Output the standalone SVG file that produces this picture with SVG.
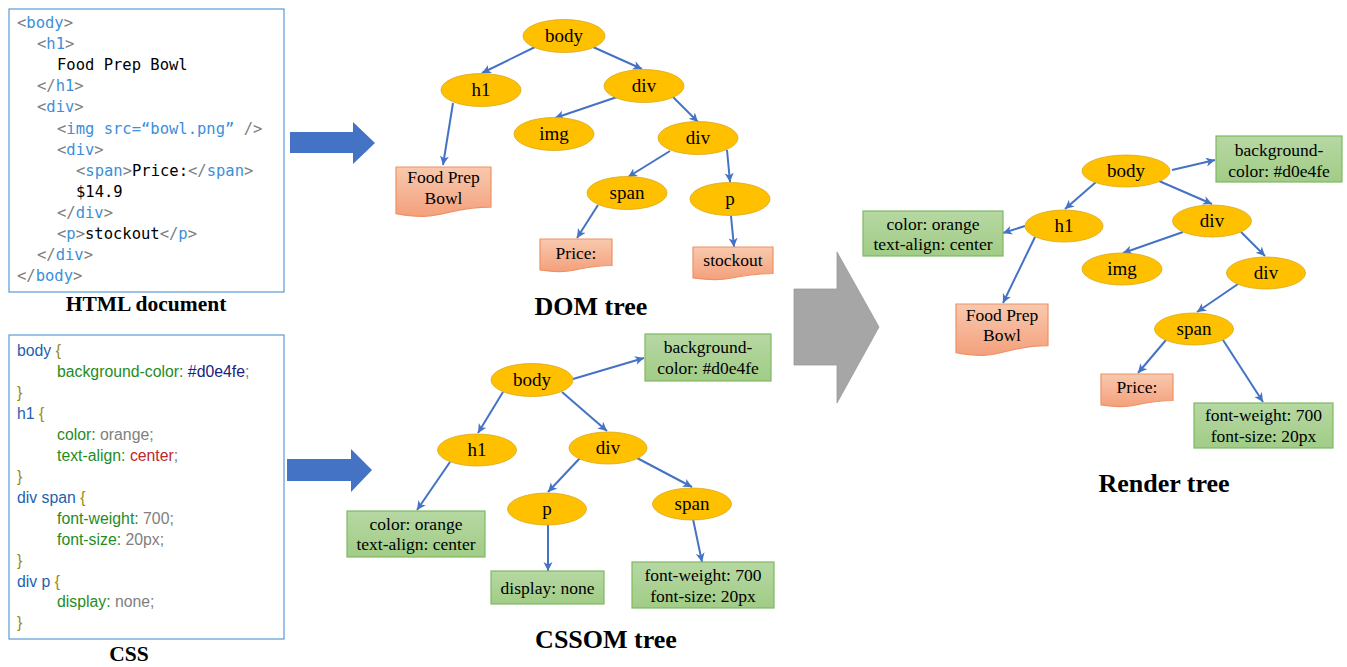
<svg xmlns="http://www.w3.org/2000/svg" width="1347" height="667" viewBox="0 0 1347 667">
<defs>
<linearGradient id="gGreen" x1="0" y1="0" x2="0" y2="1"><stop offset="0" stop-color="#b6d8a3"/><stop offset="1" stop-color="#a1cc86"/></linearGradient>
<linearGradient id="gSalmon" x1="0" y1="0" x2="0" y2="1"><stop offset="0" stop-color="#f8c9ae"/><stop offset="1" stop-color="#f4a07c"/></linearGradient>
<marker id="ah" markerUnits="userSpaceOnUse" markerWidth="12" markerHeight="12" refX="9" refY="4.5" orient="auto"><path d="M0,0 L9,4.5 L0,9 L2.5,4.5 Z" fill="#4472c4"/></marker>
<style>
.codebox{fill:#fff;stroke:#5b9bd5;stroke-width:1.2}
.mono{font-family:"DejaVu Sans Mono","Liberation Mono",monospace;font-size:15.5px;fill:#000}
.g{fill:#808080}.t{fill:#3c8fd8}
.css{font-family:"Liberation Sans",Arial,sans-serif;font-size:15.8px}
.sel{fill:#1f5fb0}.br{fill:#9a8c10}.prop{fill:#1f8c1f}.val{fill:#808080}.hex{fill:#1a237e}.red{fill:#c0282d}
.label{font-family:"Liberation Serif","Times New Roman",serif;font-weight:bold;text-anchor:middle;fill:#000}
.ell{fill:#ffc000;stroke:#dba81a;stroke-width:0.8}
.et{font-family:"Liberation Serif","Times New Roman",serif;font-size:19px;text-anchor:middle;fill:#000}
.bt{font-family:"Liberation Serif","Times New Roman",serif;font-size:17.5px;text-anchor:middle;fill:#000}
.gbox{fill:url(#gGreen);stroke:#7fb862;stroke-width:1.2}
.doc{fill:url(#gSalmon);stroke:#ee9166;stroke-width:1.2}
.edge{stroke:#4472c4;stroke-width:2;fill:none;marker-end:url(#ah)}
</style>
</defs>
<rect width="1347" height="667" fill="#fff"/>

<!-- HTML document -->
<g id="html-doc">
<rect class="codebox" x="9" y="9" width="275" height="283"/>
<text class="mono" x="17" y="28"><tspan class="g">&lt;</tspan><tspan class="t">body</tspan><tspan class="g">&gt;</tspan></text>
<text class="mono" x="37" y="49.1"><tspan class="g">&lt;</tspan><tspan class="t">h1</tspan><tspan class="g">&gt;</tspan></text>
<text class="mono" x="57" y="70.2">Food Prep Bowl</text>
<text class="mono" x="37" y="91.3"><tspan class="g">&lt;/</tspan><tspan class="t">h1</tspan><tspan class="g">&gt;</tspan></text>
<text class="mono" x="37" y="112.4"><tspan class="g">&lt;</tspan><tspan class="t">div</tspan><tspan class="g">&gt;</tspan></text>
<text class="mono" x="57" y="133.5"><tspan class="g">&lt;</tspan><tspan class="t">img src=“bowl.png”</tspan><tspan class="g"> /&gt;</tspan></text>
<text class="mono" x="57" y="154.6"><tspan class="g">&lt;</tspan><tspan class="t">div</tspan><tspan class="g">&gt;</tspan></text>
<text class="mono" x="76" y="175.7"><tspan class="g">&lt;</tspan><tspan class="t">span</tspan><tspan class="g">&gt;</tspan>Price:<tspan class="g">&lt;/</tspan><tspan class="t">span</tspan><tspan class="g">&gt;</tspan></text>
<text class="mono" x="76" y="196.8">$14.9</text>
<text class="mono" x="57" y="217.9"><tspan class="g">&lt;/</tspan><tspan class="t">div</tspan><tspan class="g">&gt;</tspan></text>
<text class="mono" x="57" y="239"><tspan class="g">&lt;</tspan><tspan class="t">p</tspan><tspan class="g">&gt;</tspan>stockout<tspan class="g">&lt;/</tspan><tspan class="t">p</tspan><tspan class="g">&gt;</tspan></text>
<text class="mono" x="37" y="260.1"><tspan class="g">&lt;/</tspan><tspan class="t">div</tspan><tspan class="g">&gt;</tspan></text>
<text class="mono" x="17" y="281.2"><tspan class="g">&lt;/</tspan><tspan class="t">body</tspan><tspan class="g">&gt;</tspan></text>
<text class="label" x="146" y="311" font-size="21.5">HTML document</text>
</g>

<!-- CSS -->
<g id="css-doc">
<rect class="codebox" x="9" y="335" width="275" height="304"/>
<text class="css" x="17" y="356"><tspan class="sel">body </tspan><tspan class="br">{</tspan></text>
<text class="css" x="57" y="377"><tspan class="prop">background-color: </tspan><tspan class="hex">#d0e4fe</tspan><tspan class="val">;</tspan></text>
<text class="css" x="17" y="397.9"><tspan class="br">}</tspan></text>
<text class="css" x="17" y="418.9"><tspan class="sel">h1 </tspan><tspan class="br">{</tspan></text>
<text class="css" x="57" y="439.8"><tspan class="prop">color: </tspan><tspan class="val">orange;</tspan></text>
<text class="css" x="57" y="460.8"><tspan class="prop">text-align: </tspan><tspan class="red">center</tspan><tspan class="val">;</tspan></text>
<text class="css" x="17" y="481.7"><tspan class="br">}</tspan></text>
<text class="css" x="17" y="502.7"><tspan class="sel">div span </tspan><tspan class="br">{</tspan></text>
<text class="css" x="57" y="523.6"><tspan class="prop">font-weight: </tspan><tspan class="val">700;</tspan></text>
<text class="css" x="57" y="544.6"><tspan class="prop">font-size: </tspan><tspan class="val">20px;</tspan></text>
<text class="css" x="17" y="565.5"><tspan class="br">}</tspan></text>
<text class="css" x="17" y="586.5"><tspan class="sel">div p </tspan><tspan class="br">{</tspan></text>
<text class="css" x="57" y="607.4"><tspan class="prop">display: </tspan><tspan class="val">none;</tspan></text>
<text class="css" x="17" y="628.4"><tspan class="br">}</tspan></text>
<text class="label" x="129" y="661" font-size="21.5">CSS</text>
</g>

<!-- Big arrows -->
<g id="big-arrows">
<polygon points="290,132 353,132 353,122 375,143 353,164 353,153 290,153" fill="#4472c4"/>
<polygon points="287,459 351,459 351,449 372,470 351,492 351,481 287,481" fill="#4472c4"/>
<polygon points="794,289 837,289 837,252 879,327 837,403 837,365 794,365" fill="#a6a6a6" stroke="#9a9a9a" stroke-width="0.8"/>
</g>

<!-- Connectors -->
<g id="connectors">
<line class="edge" x1="535" y1="47" x2="482" y2="73"/>
<line class="edge" x1="593" y1="47" x2="642" y2="69"/>
<line class="edge" x1="453" y1="103" x2="443" y2="165"/>
<line class="edge" x1="617" y1="97" x2="555" y2="118"/>
<line class="edge" x1="673" y1="97" x2="698" y2="122"/>
<line class="edge" x1="670" y1="151" x2="628" y2="177"/>
<line class="edge" x1="727" y1="150" x2="730" y2="182"/>
<line class="edge" x1="598" y1="205" x2="577" y2="238"/>
<line class="edge" x1="731" y1="216" x2="734" y2="247"/>
<line class="edge" x1="573" y1="379" x2="644" y2="358"/>
<line class="edge" x1="503" y1="392" x2="478" y2="433"/>
<line class="edge" x1="562" y1="392" x2="607" y2="431"/>
<line class="edge" x1="450" y1="462" x2="417" y2="510"/>
<line class="edge" x1="580" y1="458" x2="548" y2="492"/>
<line class="edge" x1="637" y1="458" x2="692" y2="487"/>
<line class="edge" x1="548" y1="525" x2="548" y2="571"/>
<line class="edge" x1="693" y1="519" x2="702" y2="562"/>
<line class="edge" x1="1172" y1="170" x2="1215" y2="160"/>
<line class="edge" x1="1096" y1="182" x2="1065" y2="209"/>
<line class="edge" x1="1159" y1="181" x2="1212" y2="204"/>
<line class="edge" x1="1025" y1="226" x2="1003" y2="233"/>
<line class="edge" x1="1035" y1="237" x2="1003" y2="303"/>
<line class="edge" x1="1183" y1="232" x2="1123" y2="253"/>
<line class="edge" x1="1241" y1="232" x2="1265" y2="256"/>
<line class="edge" x1="1238" y1="284" x2="1197" y2="312"/>
<line class="edge" x1="1166" y1="340" x2="1138" y2="373"/>
<line class="edge" x1="1223" y1="340" x2="1263" y2="402"/>
</g>

<!-- DOM tree nodes -->
<g id="dom-body"><ellipse class="ell" cx="564" cy="36" rx="41" ry="16.5"/><text class="et" x="564" y="42">body</text></g>
<g id="dom-h1"><ellipse class="ell" cx="481" cy="90" rx="40" ry="16.5"/><text class="et" x="481" y="96">h1</text></g>
<g id="dom-div"><ellipse class="ell" cx="644" cy="86" rx="40" ry="16.5"/><text class="et" x="644" y="92">div</text></g>
<g id="dom-img"><ellipse class="ell" cx="554" cy="134" rx="40" ry="16.5"/><text class="et" x="554" y="140">img</text></g>
<g id="dom-div2"><ellipse class="ell" cx="698" cy="138" rx="40" ry="16.5"/><text class="et" x="698" y="144">div</text></g>
<g id="dom-span"><ellipse class="ell" cx="627" cy="193" rx="40" ry="16.5"/><text class="et" x="627" y="199">span</text></g>
<g id="dom-p"><ellipse class="ell" cx="730" cy="199" rx="40" ry="16.5"/><text class="et" x="730" y="205">p</text></g>
<g id="dom-food"><path class="doc" d="M396,167 H491 V207.1 C443.5,207.1 443.5,222.2 396,213.7 Z"/><text class="bt" x="443.5" y="183">Food Prep</text><text class="bt" x="443.5" y="204">Bowl</text></g>
<g id="dom-price"><path class="doc" d="M540,239 H612 V265.5 C576,265.5 576,275.5 540,269.9 Z"/><text class="bt" x="576" y="259">Price:</text></g>
<g id="dom-stockout"><path class="doc" d="M693,247 H773 V273.5 C733,273.5 733,283.5 693,277.9 Z"/><text class="bt" x="733" y="266">stockout</text></g>
<text class="label" x="591" y="315" font-size="26">DOM tree</text>

<!-- CSSOM tree nodes -->
<g id="cssom-body"><ellipse class="ell" cx="532" cy="380" rx="41" ry="16.5"/><text class="et" x="532" y="386">body</text></g>
<g id="cssom-bg"><rect class="gbox" x="645" y="334" width="126" height="47"/><text class="bt" x="708" y="353">background-</text><text class="bt" x="708" y="374">color: #d0e4fe</text></g>
<g id="cssom-h1"><ellipse class="ell" cx="477" cy="450" rx="39.5" ry="16"/><text class="et" x="477" y="456">h1</text></g>
<g id="cssom-div"><ellipse class="ell" cx="608" cy="448" rx="39" ry="16"/><text class="et" x="608" y="454">div</text></g>
<g id="cssom-p"><ellipse class="ell" cx="547" cy="509" rx="39.5" ry="16"/><text class="et" x="547" y="515">p</text></g>
<g id="cssom-span"><ellipse class="ell" cx="692" cy="504" rx="39.5" ry="16"/><text class="et" x="692" y="510">span</text></g>
<g id="cssom-color"><rect class="gbox" x="347" y="511" width="138" height="46"/><text class="bt" x="416" y="530">color: orange</text><text class="bt" x="416" y="550">text-align: center</text></g>
<g id="cssom-display"><rect class="gbox" x="491" y="571" width="113" height="33"/><text class="bt" x="547.5" y="594">display: none</text></g>
<g id="cssom-font"><rect class="gbox" x="632" y="562" width="142" height="46"/><text class="bt" x="703" y="581">font-weight: 700</text><text class="bt" x="703" y="602">font-size: 20px</text></g>
<text class="label" x="606" y="648" font-size="26">CSSOM tree</text>

<!-- Render tree nodes -->
<g id="render-body"><ellipse class="ell" cx="1126" cy="171" rx="44" ry="16"/><text class="et" x="1126" y="177">body</text></g>
<g id="render-bg"><rect class="gbox" x="1216" y="136" width="126" height="46"/><text class="bt" x="1279" y="156">background-</text><text class="bt" x="1279" y="177">color: #d0e4fe</text></g>
<g id="render-h1"><ellipse class="ell" cx="1064" cy="226" rx="39" ry="16"/><text class="et" x="1064" y="232">h1</text></g>
<g id="render-div"><ellipse class="ell" cx="1212" cy="221" rx="39.5" ry="16"/><text class="et" x="1212" y="227">div</text></g>
<g id="render-img"><ellipse class="ell" cx="1122" cy="269" rx="40" ry="16"/><text class="et" x="1122" y="275">img</text></g>
<g id="render-div2"><ellipse class="ell" cx="1266" cy="273" rx="39.5" ry="16"/><text class="et" x="1266" y="279">div</text></g>
<g id="render-span"><ellipse class="ell" cx="1194" cy="329" rx="39.5" ry="16"/><text class="et" x="1194" y="335">span</text></g>
<g id="render-color"><rect class="gbox" x="863" y="211" width="140" height="45"/><text class="bt" x="933" y="230">color: orange</text><text class="bt" x="933" y="250">text-align: center</text></g>
<g id="render-food"><path class="doc" d="M956,304 H1048 V345.7 C1002,345.7 1002,361.6 956,352.6 Z"/><text class="bt" x="1002" y="321">Food Prep</text><text class="bt" x="1002" y="341">Bowl</text></g>
<g id="render-price"><path class="doc" d="M1101,374 H1173 V400.5 C1137,400.5 1137,410.5 1101,404.9 Z"/><text class="bt" x="1137" y="393">Price:</text></g>
<g id="render-font"><rect class="gbox" x="1194" y="403" width="139" height="45"/><text class="bt" x="1263.5" y="421">font-weight: 700</text><text class="bt" x="1263.5" y="442">font-size: 20px</text></g>
<text class="label" x="1164" y="492" font-size="26">Render tree</text>
</svg>
